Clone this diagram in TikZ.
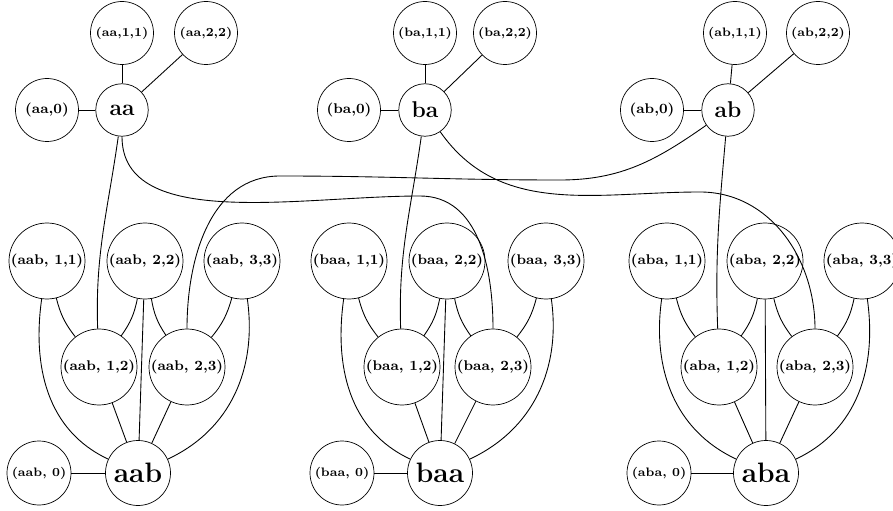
\documentclass[tikz,border=0pt]{standalone}
\usepackage{tikz}
\usetikzlibrary{positioning}

\begin{document}
\begin{tikzpicture}[
        word/.style={circle, draw, inner sep=0pt, minimum size=1.05cm, font=\fontsize{13}{15}\selectfont\bfseries},
        bigword/.style={circle, draw, inner sep=0pt, minimum size=1.3cm, font=\fontsize{16}{19}\selectfont\bfseries},
        pair/.style={circle, draw, inner sep=0pt, minimum size=1.26cm, font=\scriptsize\bfseries},
        zero/.style={circle, draw, inner sep=0pt, minimum size=1.26cm, font=\footnotesize\bfseries},
        bigpair/.style={circle, draw, inner sep=0pt, minimum size=1.52cm, font=\footnotesize\bfseries},
        bigzero/.style={circle, draw, inner sep=0pt, minimum size=1.28cm, font=\scriptsize\bfseries},
        link/.style={draw, line width=0.5pt}
        ]

        \useasboundingbox (0,0) rectangle (17.86,-10.22);

        % Nodes (top row)
        \node (aa) [word] at (2.44,-2.2) {aa};
        \node (aa0) [zero] at (0.94,-2.2) {(aa,0)};
        \node (aa11) [pair] at (2.44,-0.66) {(aa,1,1)};
        \node (aa22) [pair] at (4.12,-0.66) {(aa,2,2)};

        \node (ba) [word] at (8.5,-2.2) {ba};
        \node (ba0) [zero] at (6.98,-2.2) {(ba,0)};
        \node (ba11) [pair] at (8.5,-0.66) {(ba,1,1)};
        \node (ba22) [pair] at (10.1,-0.66) {(ba,2,2)};

        \node (ab) [word] at (14.56,-2.2) {ab};
        \node (ab0) [zero] at (13.04,-2.2) {(ab,0)};
        \node (ab11) [pair] at (14.7,-0.66) {(ab,1,1)};
        \node (ab22) [pair] at (16.36,-0.66) {(ab,2,2)};

        % Nodes (bottom row)
        \node (aab) [bigword] at (2.76,-9.46) {aab};
        \node (aab0) [bigzero] at (0.78,-9.46) {(aab, 0)};
        \node (aab11) [bigpair] at (0.94,-5.22) {(aab, 1,1)};
        \node (aab22) [bigpair] at (2.9,-5.22) {(aab, 2,2)};
        \node (aab33) [bigpair] at (4.84,-5.22) {(aab, 3,3)};
        \node (aab12) [bigpair] at (1.98,-7.34) {(aab, 1,2)};
        \node (aab23) [bigpair] at (3.74,-7.34) {(aab, 2,3)};

        \node (baa) [bigword] at (8.8,-9.46) {baa};
        \node (baa0) [bigzero] at (6.84,-9.46) {(baa, 0)};
        \node (baa11) [bigpair] at (6.98,-5.22) {(baa, 1,1)};
        \node (baa22) [bigpair] at (8.94,-5.22) {(baa, 2,2)};
        \node (baa33) [bigpair] at (10.92,-5.22) {(baa, 3,3)};
        \node (baa12) [bigpair] at (8.04,-7.34) {(baa, 1,2)};
        \node (baa23) [bigpair] at (9.86,-7.34) {(baa, 2,3)};

        \node (aba) [bigword] at (15.32,-9.46) {aba};
        \node (aba0) [bigzero] at (13.18,-9.46) {(aba, 0)};
        \node (aba11) [bigpair] at (13.34,-5.22) {(aba, 1,1)};
        \node (aba22) [bigpair] at (15.3,-5.22) {(aba, 2,2)};
        \node (aba33) [bigpair] at (17.24,-5.22) {(aba, 3,3)};
        \node (aba12) [bigpair] at (14.38,-7.34) {(aba, 1,2)};
        \node (aba23) [bigpair] at (16.3,-7.34) {(aba, 2,3)};

        % Waypoints of the long edges
        \coordinate (viaaa) at (8.4,-3.92);
        \coordinate (viaba) at (14.0,-3.84);
        \coordinate (viaab1) at (11.2,-3.6);
        \coordinate (viaab2) at (5.6,-3.52);

        % Edges (top row)
        \draw [link] (aa0) -- (aa);
        \draw [link] (aa11) -- (aa);
        \draw [link] (aa22) -- (aa);
        \draw [link] (ba0) -- (ba);
        \draw [link] (ba11) -- (ba);
        \draw [link] (ba22) -- (ba);
        \draw [link] (ab0) -- (ab);
        \draw [link] (ab11) -- (ab);
        \draw [link] (ab22) -- (ab);

        % Edges between the rows
        \draw [link] (aa) to[out=-98, in=92] (aab12);
        \draw [link] (aa.-90) to[out=-90, in=180, out looseness=0.8] (viaaa) to[out=0, in=90] (baa23);
        \draw [link] (ba) to[out=-98, in=92] (baa12);
        \draw [link] (ba) to[out=-55, in=180] (viaba) to[out=0, in=90] (aba23);
        \draw [link] (ab) to[out=-95, in=92] (aba12);
        \draw [link] (ab) to[out=-145, in=0] (viaab1) to[out=180, in=0] (viaab2) to[out=180, in=90] (aab23);

        % Edges (bottom row)
        \draw [link] (aab0) -- (aab);
        \draw [link] (aab11) to[bend right=12] (aab12);
        \draw [link] (aab22) to[bend left=12] (aab12);
        \draw [link] (aab22) to[bend right=12] (aab23);
        \draw [link] (aab33) to[bend left=12] (aab23);
        \draw [link] (aab12) -- (aab);
        \draw [link] (aab22) -- (aab);
        \draw [link] (aab23) -- (aab);
        \draw [link] (aab11) to[out=-98, in=155] (aab);
        \draw [link] (aab33) to[out=-82, in=25] (aab);

        \draw [link] (baa0) -- (baa);
        \draw [link] (baa11) to[bend right=12] (baa12);
        \draw [link] (baa22) to[bend left=12] (baa12);
        \draw [link] (baa22) to[bend right=12] (baa23);
        \draw [link] (baa33) to[bend left=12] (baa23);
        \draw [link] (baa12) -- (baa);
        \draw [link] (baa22) -- (baa);
        \draw [link] (baa23) -- (baa);
        \draw [link] (baa11) to[out=-98, in=155] (baa);
        \draw [link] (baa33) to[out=-82, in=25] (baa);

        \draw [link] (aba0) -- (aba);
        \draw [link] (aba11) to[bend right=12] (aba12);
        \draw [link] (aba22) to[bend left=12] (aba12);
        \draw [link] (aba22) to[bend right=12] (aba23);
        \draw [link] (aba33) to[bend left=12] (aba23);
        \draw [link] (aba12) -- (aba);
        \draw [link] (aba22) -- (aba);
        \draw [link] (aba23) -- (aba);
        \draw [link] (aba11) to[out=-98, in=155] (aba);
        \draw [link] (aba33) to[out=-82, in=25] (aba);

    \end{tikzpicture}
\end{document}
